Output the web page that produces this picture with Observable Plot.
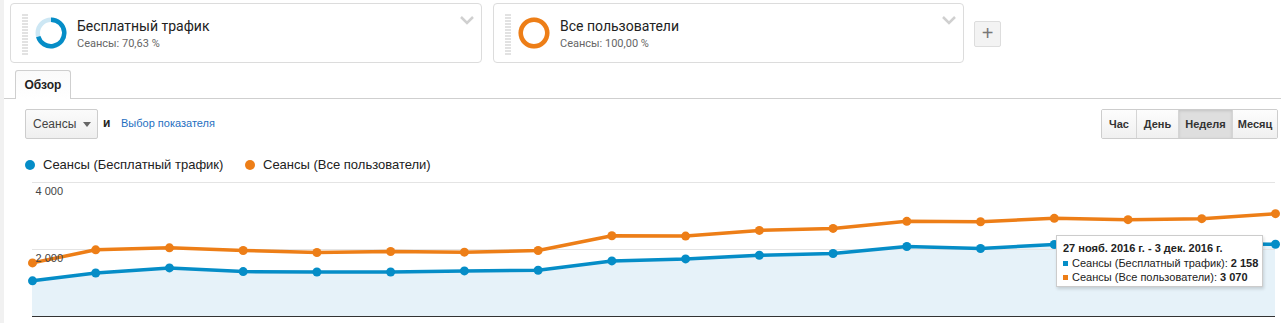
<!DOCTYPE html>
<html>
<head>
<meta charset="utf-8">
<script src="https://cdn.jsdelivr.net/npm/d3@7"></script>
<script src="https://cdn.jsdelivr.net/npm/@observablehq/plot@0.6"></script>
<style>
  html, body { margin: 0; padding: 0; background: #fff; width: 1281px; height: 323px; overflow: hidden; }
  body { position: relative; font-family: Arial, "Liberation Sans", sans-serif; color: #222; }
  .abs { position: absolute; }
  .strip { left: 0; top: 0; width: 4px; height: 323px; background: #f1f1f1; }
  .card { top: 3px; height: 60px; border: 1px solid #dcdcdc; border-radius: 4px; background: #fff; box-sizing: border-box; }
  .handle { left: 11px; top: 10px; width: 6px; height: 42px;
    background: repeating-linear-gradient(to bottom, #e2e2e2 0, #e2e2e2 1.5px, transparent 1.5px, transparent 3px); }
  .ctitle { font-family: Roboto, Arial, sans-serif; font-size: 14px; color: #222; white-space: nowrap; }
  .csub { font-family: Roboto, Arial, sans-serif; font-size: 11px; color: #666; white-space: nowrap; }
  .plus { left: 974px; top: 21px; width: 27px; height: 26px; border: 1px solid #ddd; border-radius: 2px; background: #f3f3f3; box-sizing: border-box;
    font-size: 20px; line-height: 23px; text-align: center; color: #777; font-family: Arial, sans-serif; }
  .tabline { left: 4px; top: 98px; width: 1277px; height: 1px; background: #cfcfcf; }
  .tab { left: 15px; top: 70px; width: 56px; height: 29px; border: 1px solid #cfcfcf; border-bottom: none; border-radius: 3px 3px 0 0;
    background: linear-gradient(#fafafa, #ffffff); box-sizing: border-box; font-weight: bold; font-size: 12px; line-height: 28px; text-align: center; color: #222; }
  .dd { left: 25px; top: 109px; width: 73px; height: 30px; border: 1px solid #cdcdcd; border-radius: 2px; box-sizing: border-box;
    background: linear-gradient(#fbfbfb, #efefef); font-size: 12px; color: #444; line-height: 28px; padding-left: 7px; }
  .btns { left: 1101px; top: 109px; height: 30px; display: flex; border: 1px solid #cdcdcd; border-radius: 2px; box-sizing: border-box; overflow: hidden; }
  .btns div { height: 28px; line-height: 28px; font-size: 11px; font-weight: bold; color: #333; text-align: center; box-sizing: border-box;
    background: linear-gradient(#fdfdfd, #f0f0f0); border-left: 1px solid #d5d5d5; }
  .btns div:first-child { border-left: none; }
  .btns div.on { background: #dedede; box-shadow: inset 0 1px 3px rgba(0,0,0,0.12); }
  .legend { top: 156px; font-size: 13px; color: #222; white-space: nowrap; line-height: 17px; }
  .ldot { display: inline-block; width: 10px; height: 10px; border-radius: 50%; vertical-align: -1px; margin-right: 8px; }
  .tip { left: 1056px; top: 235px; width: 207px; height: 52px; background: #fff; border: 1px solid #ccc; box-sizing: border-box;
    box-shadow: 1px 2px 3px rgba(0,0,0,0.15); font-size: 11px; color: #222; padding: 5px 0 0 6px; white-space: nowrap; line-height: 14.5px; }
  .tip b { font-weight: bold; }
  .sq { display: inline-block; width: 5px; height: 5px; margin-right: 4px; vertical-align: 1px; }
  #chart { left: 0; top: 175px; }
</style>
</head>
<body>
<script>
// ---- data ----
const segmentNames = ["Бесплатный трафик", "Все пользователи"];
const segmentShares = [70.63, 100.00];
const segmentColors = ["#058dc7", "#ed7e17"];
const segmentLight = ["#cde7f4", "#fbdcc0"];
const weekStarts = ["2016-08-01","2016-08-07","2016-08-14","2016-08-21","2016-08-28","2016-09-04",
  "2016-09-11","2016-09-18","2016-09-25","2016-10-02","2016-10-09","2016-10-16",
  "2016-10-23","2016-10-30","2016-11-06","2016-11-13","2016-11-20","2016-11-27"];
const organicSessions = [1065,1300,1450,1340,1330,1330,1360,1380,1660,1720,1830,1880,2090,2030,2150,2140,2170,2158];
const allSessions = [1600,1990,2050,1970,1910,1940,1920,1970,2410,2400,2570,2630,2840,2830,2930,2890,2920,3070];
const yTickValues = [2000, 4000];
const yTickLabels = ["2 000", "4 000"];
const seriesLabels = ["Сеансы (Бесплатный трафик)", "Сеансы (Все пользователи)"];
const granularity = ["Час", "День", "Неделя", "Месяц"];
const activeGranularity = "Неделя";
const tipTitle = "27 нояб. 2016 г. - 3 дек. 2016 г.";
const tipIndex = 17;

function el(cls, html, style) {
  const d = document.createElement("div");
  d.className = "abs " + cls;
  if (html != null) d.innerHTML = html;
  if (style) Object.assign(d.style, style);
  document.body.appendChild(d);
  return d;
}
const fmtNum = v => d3.format(",")(v).replace(/,/g, " ");
const fmtPct = v => v.toFixed(2).replace(".", ",") + " %";

el("strip");

// ---- segment cards ----
const cardLeft = [10, 493], cardWidth = [472, 471];
segmentNames.forEach((name, k) => {
  const c = el("card", null, { left: cardLeft[k] + "px", width: cardWidth[k] + "px" });
  const h = document.createElement("div"); h.className = "abs handle"; c.appendChild(h);
  const svg = d3.create("svg").attr("width", 34).attr("height", 34)
    .style("position", "absolute").style("left", "23px").style("top", "12px");
  const arc = d3.arc().innerRadius(11).outerRadius(15.5);
  const g = svg.append("g").attr("transform", "translate(17,17)");
  const frac = segmentShares[k] / 100;
  g.append("path").attr("d", arc({ startAngle: 0, endAngle: 2 * Math.PI })).attr("fill", segmentLight[k]);
  g.append("path").attr("d", arc({ startAngle: 0, endAngle: 2 * Math.PI * frac })).attr("fill", segmentColors[k]);
  c.appendChild(svg.node());
  const t = document.createElement("div"); t.className = "abs ctitle"; t.textContent = name;
  Object.assign(t.style, { left: "66px", top: "14px" }); c.appendChild(t);
  const s = document.createElement("div"); s.className = "abs csub"; s.textContent = "Сеансы: " + fmtPct(segmentShares[k]);
  Object.assign(s.style, { left: "66px", top: "33px" }); c.appendChild(s);
  const ch = d3.create("svg").attr("width", 16).attr("height", 10)
    .style("position", "absolute").style("left", (cardWidth[k] - 24) + "px").style("top", "11px");
  ch.append("path").attr("d", "M2,2 L8,8 L14,2").attr("fill", "none").attr("stroke", "#d0d0d0").attr("stroke-width", 2.5);
  c.appendChild(ch.node());
});
el("plus", "+");

// ---- tab + controls ----
el("tabline");
el("tab", "Обзор");
const dd = el("dd", "Сеансы");
const arr = d3.create("svg").attr("width", 9).attr("height", 6).style("position", "absolute").style("left", "57px").style("top", "12px");
arr.append("path").attr("d", "M0,0 L8,0 L4,5 Z").attr("fill", "#666");
dd.appendChild(arr.node());
el("", "и", { left: "103px", top: "116px", fontSize: "12px", fontWeight: "bold", color: "#222" });
el("", "Выбор показателя", { left: "121px", top: "117px", fontSize: "11px", color: "#1f6fbf", whiteSpace: "nowrap" });
const btns = el("btns");
const bw = [34, 42, 54, 45];
granularity.forEach((g, i) => {
  const b = document.createElement("div");
  b.textContent = g; b.style.width = bw[i] + "px";
  if (g === activeGranularity) b.className = "on";
  btns.appendChild(b);
});

// ---- legend ----
const legLeft = [25, 245];
seriesLabels.forEach((lab, k) => {
  el("legend", `<span class="ldot" style="background:${segmentColors[k]}"></span>${lab}`, { left: legLeft[k] + "px" });
});

// ---- chart ----
const data = weekStarts.map((d, j) => ({ date: new Date(d + "T00:00:00Z"), organic: organicSessions[j], all: allSessions[j] }));
const ticks = yTickValues.map((v, j) => ({ v, label: yTickLabels[j] }));
const chart = Plot.plot({
  width: 1281,
  height: 148,
  marginLeft: 32,
  marginRight: 6,
  marginTop: 7,
  marginBottom: 7,
  x: { type: "utc", domain: [data[0].date, data[data.length - 1].date], axis: null },
  y: { domain: [0, 4000], axis: null },
  style: { fontFamily: "Arial, 'Liberation Sans', sans-serif", overflow: "visible", background: "transparent" },
  marks: [
    Plot.areaY(data, { x: "date", y: "organic", fill: "#e6f2f9" }),
    Plot.ruleY(yTickValues, { stroke: "#e4e4e4", strokeWidth: 1 }),
    Plot.ruleY([0], { stroke: "#333", strokeWidth: 1.2 }),
    Plot.lineY(data, { x: "date", y: "organic", stroke: segmentColors[0], strokeWidth: 3.5, strokeLinejoin: "round" }),
    Plot.lineY(data, { x: "date", y: "all", stroke: segmentColors[1], strokeWidth: 3.5, strokeLinejoin: "round" }),
    Plot.dot(data, { x: "date", y: "organic", r: 4.5, fill: segmentColors[0] }),
    Plot.dot(data, { x: "date", y: "all", r: 4.5, fill: segmentColors[1] }),
    Plot.text(ticks, { y: "v", text: "label", frameAnchor: "left", textAnchor: "start", dx: 3, dy: 9, fontSize: 11, fill: "#444" })
  ]
});
chart.id = "chart";
chart.classList.add("abs");
chart.style.position = "absolute";
document.body.appendChild(chart);

// ---- tooltip ----
el("tip",
  `<b>${tipTitle}</b><br>` +
  `<span class="sq" style="background:${segmentColors[0]}"></span>${seriesLabels[0]}: <b>${fmtNum(organicSessions[tipIndex])}</b><br>` +
  `<span class="sq" style="background:${segmentColors[1]}"></span>${seriesLabels[1]}: <b>${fmtNum(allSessions[tipIndex])}</b>`);
</script>
</body>
</html>
